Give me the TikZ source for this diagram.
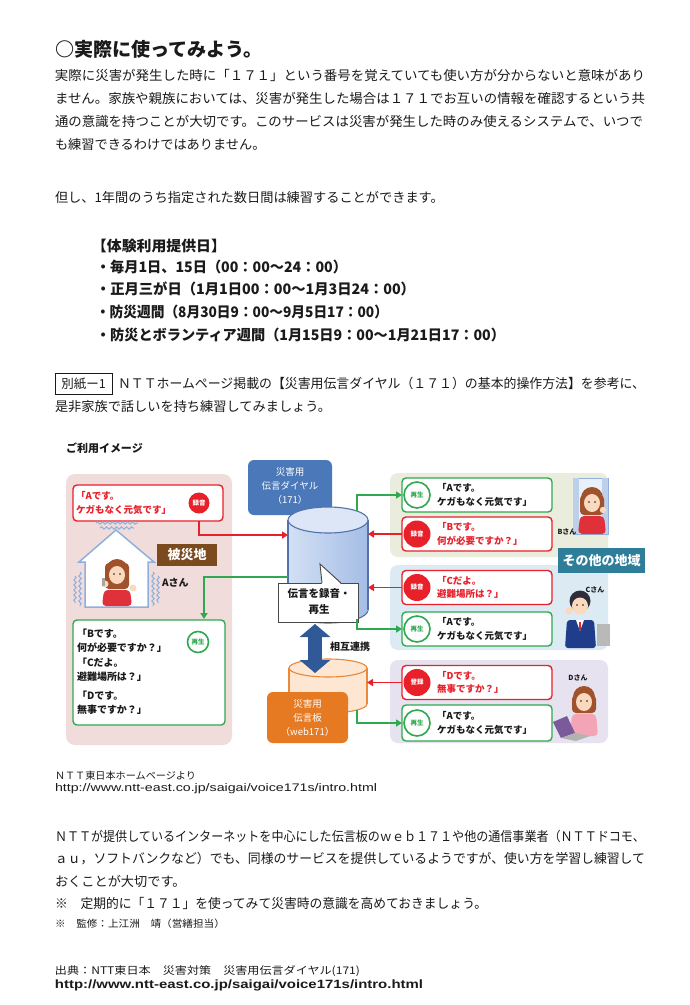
\documentclass[tikz,border=0pt]{standalone}
\usepackage{fontspec}
\usepackage{graphicx}
\setmainfont{Noto Sans CJK JP}
\newfontfamily\lsans{Liberation Sans}
\usetikzlibrary{arrows.meta,decorations.pathmorphing}
\definecolor{txt}{HTML}{1A1A1A}
\definecolor{myred}{HTML}{E8202A}
\definecolor{mygreen}{HTML}{2FA84F}
\definecolor{pinkbg}{HTML}{F1DCDC}
\definecolor{panelG}{HTML}{EAEDDD}
\definecolor{panelB}{HTML}{DCEAF4}
\definecolor{panelP}{HTML}{E6E2EF}
\definecolor{tealbox}{HTML}{2E7D99}
\definecolor{brownbox}{HTML}{7B4A1F}
\definecolor{bluebox}{HTML}{4A78B8}
\definecolor{orangebox}{HTML}{E57A22}
\definecolor{orangeline}{HTML}{E8893C}
\definecolor{orangefill}{HTML}{FDE6D2}
\definecolor{cylline}{HTML}{5372AB}
\definecolor{cylL}{HTML}{D3E0F4}
\definecolor{cylR}{HTML}{A4BDE6}
\definecolor{cylT}{HTML}{DCE6F6}
\definecolor{darkblue}{HTML}{2F5A97}
\definecolor{skin}{HTML}{FBD9BF}
\definecolor{hairbrown}{HTML}{A0522D}
\definecolor{hairdark}{HTML}{2E2E3A}
\definecolor{bodyred}{HTML}{E0303A}
\definecolor{navy}{HTML}{1F3D8A}
\definecolor{pinkbody}{HTML}{F3A5B6}
\definecolor{wavecol}{HTML}{8FB0DA}
\definecolor{winfill}{HTML}{E8F1FA}
\definecolor{laptop}{HTML}{7A5A9A}
\newcommand{\fitw}[2]{\resizebox{#1}{\height}{#2}}
\begin{document}
\begin{tikzpicture}[x=1pt,y=-1pt,
  every node/.style={inner sep=0pt,outer sep=0pt},
  bodyline/.style={anchor=west,text=txt,font=\fontsize{13.2}{13.2}\selectfont},
  schedline/.style={anchor=west,text=txt,font=\bfseries\fontsize{14.5}{14.5}\selectfont},
  rbox/.style={draw=myred,line width=1.4pt,fill=white,rounded corners=4pt,minimum width=150pt,minimum height=34pt},
  gbox/.style={draw=mygreen,line width=1.4pt,fill=white,rounded corners=4pt,minimum width=150pt,minimum height=34pt},
  rdot/.style={circle,fill=myred,minimum size=27pt,text=white,font=\bfseries\fontsize{6.5}{6.5}\selectfont},
  gdot/.style={circle,draw=mygreen,line width=1.6pt,fill=white,minimum size=26pt,text=mygreen,font=\bfseries\fontsize{6.5}{6.5}\selectfont},
  msgr/.style={anchor=west,align=left,text=myred,font=\bfseries\fontsize{9.5}{13.5}\selectfont},
  msgk/.style={anchor=west,align=left,text=txt,font=\bfseries\fontsize{9.5}{13.5}\selectfont},
  redarr/.style={draw=myred,line width=1.8pt,-{Triangle[length=6pt,width=7pt]}},
  grnarr/.style={draw=mygreen,line width=1.8pt,-{Triangle[length=6pt,width=7pt]}},
  wave/.style={draw=wavecol,line width=1pt,decorate,decoration={snake,amplitude=1.2pt,segment length=5pt}},
  person/.style={font=\bfseries\fontsize{7}{7}\selectfont,text=txt}
]
\useasboundingbox (0,0) rectangle (690,1005);
\fill[white] (0,0) rectangle (690,1005);

% ---------- top text ----------
\node[bodyline] (t0) at (55,49) {\fitw{208pt}{\bfseries\fontsize{19}{19}\selectfont ○実際に使ってみよう。}};
\node[bodyline] (p1) at (55,75) {\fitw{590pt}{実際に災害が発生した時に「１７１」という番号を覚えていても使い方が分からないと意味があり}};
\node[bodyline] (p2) at (55,98) {\fitw{590pt}{ません。家族や親族においては、災害が発生した場合は１７１でお互いの情報を確認するという共}};
\node[bodyline] (p3) at (55,121) {\fitw{588pt}{通の意識を持つことが大切です。このサービスは災害が発生した時のみ使えるシステムで、いつで}};
\node[bodyline] (p4) at (55,144) {も練習できるわけではありません。};
\node[bodyline] (p5) at (55,197) {但し、1年間のうち指定された数日間は練習することができます。};

\node[schedline] (h0) at (92,246) {\fitw{134pt}{【体験利用提供日】}};
\node[schedline] (s1) at (96,267) {\fitw{251pt}{・毎月1日、15日（00：00～24：00）}};
\node[schedline] (s2) at (96,289) {\fitw{319pt}{・正月三が日（1月1日00：00～1月3日24：00）}};
\node[schedline] (s3) at (96,312) {\fitw{292pt}{・防災週間（8月30日9：00～9月5日17：00）}};
\node[schedline] (s4) at (96,335) {\fitw{409pt}{・防災とボランティア週間（1月15日9：00～1月21日17：00）}};

\node[draw=txt,line width=0.7pt,minimum width=57pt,minimum height=21pt,text=txt,font=\fontsize{12.5}{12.5}\selectfont] (bz) at (83.5,383.5) {別紙ー1};
\node[bodyline] (r1) at (118,383) {\fitw{527pt}{ＮＴＴホームページ掲載の【災害用伝言ダイヤル（１７１）の基本的操作方法】を参考に、}};
\node[bodyline] (r2) at (55,407) {是非家族で話しいを持ち練習してみましょう。};

\node[anchor=west,text=txt,font=\bfseries\fontsize{11}{11}\selectfont] (lab) at (66,448) {ご利用イメージ};

% ---------- diagram: left panel ----------
\node[fill=pinkbg,rounded corners=9pt,minimum width=166pt,minimum height=271pt] (pnlA) at (149,609.5) {};

\node[rbox,minimum width=150pt,minimum height=36pt] (rA) at (148,503) {};
\node[rdot,minimum size=21pt] (rAd) at (199,503) {録音};
\node[msgr] (rAt) at (76,503) {「Aです。\\ケガもなく元気です」};

% house and person A
\draw[draw=wavecol,line width=1.5pt,fill=white] (85,607) -- (85,562) -- (79,562) -- (116,530) -- (154,562) -- (148,562) -- (148,607) -- cycle;
\draw[wave] (96,523) -- (138,523);
\draw[wave] (100,528) -- (134,528);
\draw[wave] (80,572) -- (80,606);
\draw[wave] (75,576) -- (75,603);
\draw[wave] (153,572) -- (153,606);
\draw[wave] (158,576) -- (158,603);
\fill[hairbrown,rounded corners=4pt] (105,563) rectangle (129,589);
\fill[hairbrown] (117,570) circle[radius=11pt];
\fill[skin] (117,575) ellipse[x radius=8pt,y radius=9pt];
\fill[txt] (114,574) circle[radius=0.9pt] (120,574) circle[radius=0.9pt];
\fill[bodyred,rounded corners=4pt] (102,606) -- (104,590) -- (130,590) -- (132,606) -- cycle;
\fill[skin] (105,584) circle[radius=3.5pt];
\fill[skin] (133,588) circle[radius=3.5pt];
\fill[gray!70] (102,578) rectangle (105,586);

\node[fill=brownbox,minimum width=60pt,minimum height=22pt,text=white,font=\bfseries\fontsize{13}{13}\selectfont] (hisai) at (187,555) {被災地};
\node[anchor=west,text=txt,font=\bfseries\fontsize{10}{10}\selectfont] (aname) at (162,583) {Aさん};

\node[gbox,minimum width=152pt,minimum height=105pt] (gB) at (149,672.5) {};
\node[gdot,minimum size=21pt] (gBd) at (198,642) {再生};
\node[msgk,font=\bfseries\fontsize{10}{13.5}\selectfont] (gBt1) at (77,640.5) {「Bです。\\何が必要ですか？」};
\node[msgk,font=\bfseries\fontsize{10}{13.5}\selectfont] (gBt2) at (77,669.5) {「Cだよ。\\避難場所は？」};
\node[msgk,font=\bfseries\fontsize{10}{13.5}\selectfont] (gBt3) at (77,702.5) {「Dです。\\無事ですか？」};

% ---------- diagram: center ----------
\node[fill=bluebox,rounded corners=6pt,minimum width=84pt,minimum height=55pt] (dial) at (290,487.5) {};
\node[text=white,align=center,font=\fontsize{9.5}{14}\selectfont] (dialt) at (290,486) {災害用\\伝言ダイヤル\\（171）};

% blue cylinder
\shade[left color=cylL,right color=cylR] (328,610) ellipse[x radius=40pt,y radius=13pt];
\draw[cylline,line width=1.1pt] (328,610) ellipse[x radius=40pt,y radius=13pt];
\shade[left color=cylL,right color=cylR] (288,520) rectangle (368,610);
\draw[cylline,line width=1.1pt] (288,520) -- (288,610) (368,520) -- (368,610);
\filldraw[fill=cylT,draw=cylline,line width=1.1pt] (328,520) ellipse[x radius=40pt,y radius=13pt];
\node[minimum width=80pt,minimum height=116pt] (cyl) at (328,565) {};

% callout
\node[draw=txt!80,line width=0.9pt,fill=white,minimum width=80pt,minimum height=39pt] (call) at (318,602.5) {};
\fill[white] (322,584.2) -- (320,564) -- (341,584.2) -- cycle;
\draw[txt!80,line width=0.9pt] (322,583) -- (320,564) -- (341,583);
\node[align=center,text=txt,font=\bfseries\fontsize{10.5}{16}\selectfont] (callt) at (319,602) {伝言を録音・\\再生};

% orange cylinder
\filldraw[fill=orangefill,draw=orangeline,line width=1.1pt] (328,704) ellipse[x radius=39pt,y radius=9pt];
\fill[orangefill] (289,668) rectangle (367,704);
\draw[orangeline,line width=1.1pt] (289,668) -- (289,704) (367,668) -- (367,704);
\filldraw[fill=orangefill,draw=orangeline,line width=1.1pt] (328,668) ellipse[x radius=39pt,y radius=9pt];
\node[minimum width=78pt,minimum height=54pt] (ocyl) at (328,686) {};

\node[fill=orangebox,rounded corners=6pt,minimum width=81pt,minimum height=51pt] (board) at (307.5,717.5) {};
\node[text=white,align=center,font=\fontsize{9.5}{14}\selectfont] (boardt) at (307.5,718) {災害用\\伝言板\\（web171）};

% double arrow
\coordinate (dA) at (315,624);
\coordinate (dB) at (315,673);
\draw[darkblue,line width=14pt,{Triangle[length=13pt,width=30pt]}-{Triangle[length=13pt,width=30pt]}] (dA) -- (dB);
\node[text=txt,font=\bfseries\fontsize{10}{10}\selectfont] (sougo) at (350,647) {相互連携};

% ---------- diagram: right panels ----------
\node[fill=panelG,rounded corners=8pt,minimum width=218pt,minimum height=84pt] (pnlB) at (499,515) {};
\node[fill=panelB,rounded corners=8pt,minimum width=218pt,minimum height=85pt] (pnlC) at (499,607.5) {};
\node[fill=panelP,rounded corners=8pt,minimum width=218pt,minimum height=83pt] (pnlD) at (499,701.5) {};

\node[gbox] (b1) at (477,495) {};
\node[gdot] (b1d) at (417,495) {再生};
\node[msgk] (b1t) at (437,495) {「Aです。\\ケガもなく元気です」};

\node[rbox] (b2) at (477,534) {};
\node[rdot] (b2d) at (417,534) {録音};
\node[msgr] (b2t) at (437,534) {「Bです。\\何が必要ですか？」};

\node[rbox] (b3) at (477,587.5) {};
\node[rdot] (b3d) at (417,587.5) {録音};
\node[msgr] (b3t) at (437,587.5) {「Cだよ。\\避難場所は？」};

\node[gbox] (b4) at (477,629) {};
\node[gdot] (b4d) at (417,629) {再生};
\node[msgk] (b4t) at (437,629) {「Aです。\\ケガもなく元気です」};

\node[rbox] (b5) at (477,682.5) {};
\node[rdot] (b5d) at (417,682.5) {登録};
\node[msgr] (b5t) at (437,682.5) {「Dです。\\無事ですか？」};

\node[gbox,minimum height=36pt] (b6) at (477,723) {};
\node[gdot] (b6d) at (417,723) {再生};
\node[msgk] (b6t) at (437,723) {「Aです。\\ケガもなく元気です」};

% person B with window
\filldraw[fill=winfill,draw=wavecol,line width=0.8pt] (573,478) rectangle (608,534);
\fill[wavecol!60] (573,478) rectangle (579,534);
\fill[wavecol!60] (602,478) rectangle (608,534);
\fill[hairbrown,rounded corners=4pt] (580,495) rectangle (604,515);
\fill[hairbrown] (592,498) circle[radius=11pt];
\fill[skin] (592,503) ellipse[x radius=8pt,y radius=9pt];
\fill[txt] (589,502) circle[radius=0.9pt] (595,502) circle[radius=0.9pt];
\fill[bodyred,rounded corners=4pt] (578,534) -- (580,516) -- (604,516) -- (606,534) -- cycle;
\fill[skin] (603,510) circle[radius=3.2pt];
\node[person] (bname) at (567,532) {Bさん};

% person C
\fill[hairdark] (580,601) circle[radius=10.5pt];
\fill[skin] (580,606) ellipse[x radius=8pt,y radius=8.5pt];
\fill[txt] (577,605) circle[radius=0.9pt] (583,605) circle[radius=0.9pt];
\fill[navy,rounded corners=3pt] (565,648) -- (567,620) -- (594,620) -- (596,648) -- cycle;
\fill[white] (576,620) -- (584,620) -- (580,631) -- cycle;
\fill[myred] (579,622) rectangle (581,630);
\fill[skin] (569,611) circle[radius=3.5pt];
\fill[gray!55] (597,624) rectangle (610,646);
\node[person] (cname) at (595,590) {Cさん};

% person D
\fill[hairbrown,rounded corners=4pt] (572,695) rectangle (596,713);
\fill[hairbrown] (584,697) circle[radius=11pt];
\fill[skin] (584,702) ellipse[x radius=8pt,y radius=9pt];
\fill[txt] (581,701) circle[radius=0.9pt] (587,701) circle[radius=0.9pt];
\fill[pinkbody,rounded corners=4pt] (570,736) -- (572,714) -- (596,714) -- (598,736) -- cycle;
\fill[laptop] (553,722) -- (567,716) -- (575,733) -- (561,738) -- cycle;
\fill[gray!60] (561,738) -- (575,733) -- (590,736) -- (576,741) -- cycle;
\node[person] (dname) at (578,678) {Dさん};

\node[fill=tealbox,minimum width=87pt,minimum height=25pt,text=white,font=\bfseries\fontsize{13}{13}\selectfont] (other) at (601.5,560.5) {その他の地域};

% ---------- connectors ----------
\coordinate (aE) at (288,535);
\draw[redarr] (rA.south -| rAd.center) |- (aE);
\coordinate (gS) at (288,577);
\coordinate (gE) at (204,619);
\draw[grnarr] (gS) -| (gE);

\coordinate (g1s) at (357,511);
\draw[grnarr] (g1s) |- (b1.west);
\draw[redarr] (b2.west) -- (b2.west -| cyl.east);
\draw[redarr] (b3.west) -- (b3.west -| cyl.east);
\coordinate (g4s) at (357,619);
\draw[grnarr] (g4s) |- (b4.west);
\draw[redarr] (b5.west) -- (b5.west -| ocyl.east);
\coordinate (g6s) at (357,710);
\draw[grnarr] (g6s) |- (b6.west);

% ---------- bottom text ----------
\node[bodyline,font=\fontsize{10}{10}\selectfont] (u1) at (55,776) {\fitw{141pt}{ＮＴＴ東日本ホームページより}};
\node[anchor=west,text=txt,font=\lsans\fontsize{11}{11}\selectfont] (u2) at (55,789) {\fitw{322pt}{http://www.ntt-east.co.jp/saigai/voice171s/intro.html}};
\node[bodyline] (q1) at (55,836) {\fitw{590pt}{ＮＴＴが提供しているインターネットを中心にした伝言板のｗｅｂ１７１や他の通信事業者（ＮＴＴドコモ、}};
\node[bodyline] (q2) at (55,859) {\fitw{590pt}{ａｕ，ソフトバンクなど）でも、同様のサービスを提供しているようですが、使い方を学習し練習して}};
\node[bodyline] (q3) at (55,881) {おくことが大切です。};
\node[bodyline] (q4) at (55,903) {\fitw{432pt}{※　定期的に「１７１」を使ってみて災害時の意識を高めておきましょう。}};
\node[bodyline,font=\fontsize{10}{10}\selectfont] (q5) at (55,924) {\fitw{170pt}{※　監修：上江洲　靖（営繕担当）}};
\node[bodyline,font=\fontsize{10.5}{10.5}\selectfont] (v1) at (55,971) {\fitw{305pt}{出典：NTT東日本　災害対策　災害用伝言ダイヤル(171)}};
\node[anchor=west,text=txt,font=\lsans\bfseries\fontsize{12}{12}\selectfont] (v2) at (55,985) {\fitw{368pt}{http://www.ntt-east.co.jp/saigai/voice171s/intro.html}};
\end{tikzpicture}
\end{document}
